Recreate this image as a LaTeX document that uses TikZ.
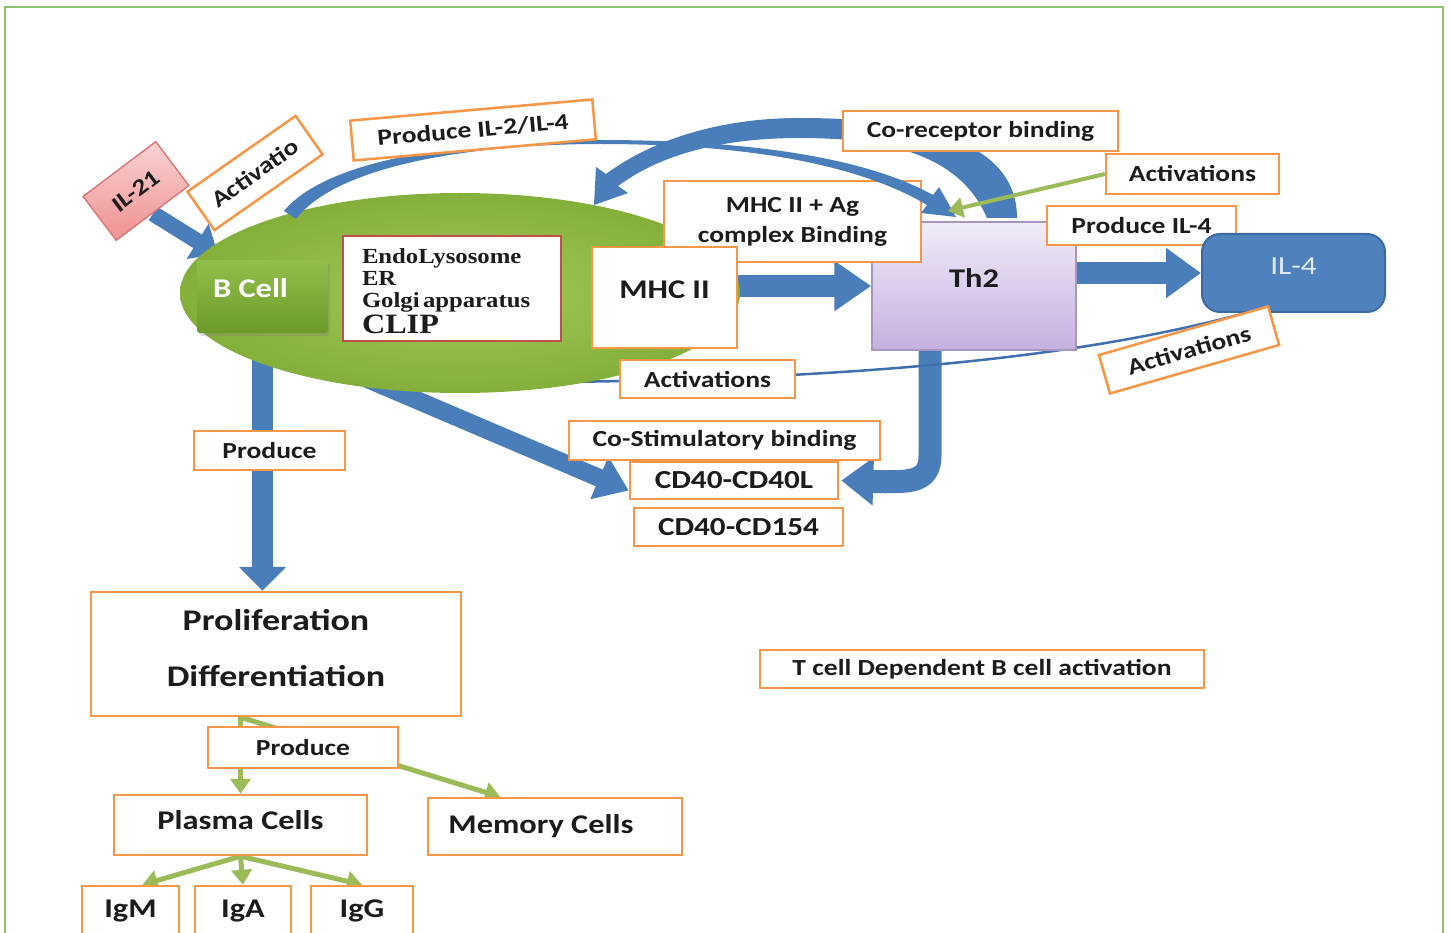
\documentclass[tikz,border=0pt]{standalone}
\usepackage{fontspec}
\setmainfont{Carlito}[FakeStretch=1.2]
\newfontfamily\serifbold{Liberation Serif}[FakeStretch=1.15]
\usetikzlibrary{shapes.geometric,arrows.meta,shadows}
\pgfdeclarelayer{bg}
\pgfsetlayers{bg,main}

\definecolor{orng}{HTML}{F79646}
\definecolor{blu}{HTML}{4A7EBB}
\definecolor{bludk}{HTML}{3F6FAE}
\definecolor{grnA}{HTML}{9BBB59}
\definecolor{frameG}{HTML}{8CC26E}
\definecolor{redB}{HTML}{C0504D}
\definecolor{ink}{HTML}{1C1C1C}
\definecolor{cellIn}{HTML}{A3C95A}
\definecolor{cellOut}{HTML}{84AF3A}
\definecolor{bTop}{HTML}{93BE4B}
\definecolor{bBot}{HTML}{6C9A2A}
\definecolor{thTop}{HTML}{F1ECF8}
\definecolor{thBot}{HTML}{C5B0DF}
\definecolor{thEdge}{HTML}{A597C0}
\definecolor{ilFill}{HTML}{4F81BD}
\definecolor{ilEdge}{HTML}{3C6BA3}
\definecolor{ilText}{HTML}{E2EAF5}
\definecolor{pinkTop}{HTML}{FAD3D3}
\definecolor{pinkBot}{HTML}{EE9090}
\definecolor{pinkEdge}{HTML}{DB7A7A}

\newcommand\txtN{\fontsize{23}{27}\selectfont\bfseries}
\newcommand\txtL{\fontsize{27}{31}\selectfont\bfseries}

\begin{document}
\begin{tikzpicture}[x=1pt,y=-1pt,
  box/.style={draw=orng, line width=2.5pt, fill=white, inner sep=0pt, text=ink, font=\txtN},
  bigbox/.style={box, font=\txtL},
  blk/.style={draw=blu, line width=#1},
  leaf/.style={draw=grnA, line width=5pt, -{Triangle[width=20pt,length=15pt]}},
]
\useasboundingbox (0,0) rectangle (1451,933);

% ---- B cell body and its contents ----
\node[ellipse, minimum width=560pt, minimum height=200pt,
      inner color=cellIn, outer color=cellOut] (cell) at (460,293) {};
\node[minimum width=131pt, minimum height=73pt, inner sep=0pt,
      top color=bTop, bottom color=bBot, rounded corners=3pt,
      drop shadow={opacity=0.3, shadow xshift=2pt, shadow yshift=-3pt},
      text=white, font=\txtL] (bcell) at (262.5,296.5) {\raisebox{17pt}{B Cell}\kern24pt};
\node[draw=redB, line width=2.5pt, fill=white, inner sep=0pt,
      minimum width=218pt, minimum height=105pt, text width=180pt, align=left,
      text=ink] (endo) at (452,288.5)
  {\raisebox{-3pt}[\height][\depth]{\parbox{180pt}{\serifbold\bfseries\fontsize{21.5}{22}\selectfont EndoLysosome\\ER\\Golgi apparatus\\[2pt]{\fontsize{28}{25}\selectfont CLIP}}}};

% curved arrow from Th2 back onto the B cell
\fill[blu] (1017,218) .. controls (1017,145) and (930,118) .. (800,118)
  .. controls (710,118) and (645,145) .. (606,174)
  -- (596,167) -- (594,205) -- (628,193) -- (618,186)
  .. controls (660,155) and (720,138) .. (800,138)
  .. controls (900,138) and (962,160) .. (987,218) -- cycle;

% ---- Th2 and the binding boxes in front of it ----
\node[draw=thEdge, line width=1.5pt, top color=thTop, bottom color=thBot,
      minimum width=204pt, minimum height=128pt, inner sep=0pt,
      text=ink, font=\txtL] (th2) at (974,286) {\raisebox{16pt}{Th2}};
\node[box, minimum width=257pt, minimum height=81pt, align=center,
      font=\fontsize{23}{30}\selectfont\bfseries] (mhcag) at (792.5,221.5) {MHC II + Ag\\complex Binding};
\node[bigbox, minimum width=145pt, minimum height=101pt] (mhc) at (664.5,297.5) {\raisebox{15pt}{MHC II}};

% curved arrow from the B cell over to Th2
\fill[blu] (284,211) .. controls (330,155) and (480,140) .. (600,140)
  .. controls (760,140) and (870,160) .. (933,195)
  -- (939,187) -- (956,217) -- (921,213) -- (927,205)
  .. controls (865,168) and (760,144) .. (600,144)
  .. controls (485,144) and (340,162) .. (296,219) -- cycle;

\node[box, minimum width=243pt, minimum height=40pt, rotate=5] (pil) at (473,130) {Produce IL-2/IL-4};
\node[box, minimum width=132pt, minimum height=47pt, rotate=35] (actv) at (255,173) {Activatio};
\node[draw=pinkEdge, line width=1.5pt, top color=pinkTop, bottom color=pinkBot,
      minimum width=91pt, minimum height=55pt, inner sep=0pt, rotate=37,
      text=ink, font=\txtN] (il21) at (136,191) {IL-21};

\node[box, minimum width=275pt, minimum height=40pt] (corec) at (980.5,131) {Co-receptor binding};
\node[box, minimum width=173pt, minimum height=40pt] (acttop) at (1192.5,174) {Activations};
\node[box, minimum width=189pt, minimum height=39pt] (pil4) at (1141.5,225.5) {Produce IL-4};
\node[fill=ilFill, draw=ilEdge, line width=2pt, rounded corners=18pt,
      minimum width=183pt, minimum height=78pt, inner sep=0pt,
      text=ilText, font=\fontsize{26}{30}\selectfont] (il4) at (1293.5,273) {\raisebox{14pt}{IL-4}};

\node[box, minimum width=175pt, minimum height=38pt] (actmid) at (707.5,379) {Activations};
\node[box, minimum width=176pt, minimum height=40pt, rotate=16] (actrot) at (1189,350) {Activations};

\node[box, minimum width=311pt, minimum height=39pt] (costim) at (724.5,440.5) {Co-Stimulatory binding};
\node[box, minimum width=208pt, minimum height=37pt, font=\fontsize{26}{30}\selectfont\bfseries] (cd40l) at (734,480.5) {CD40-CD40L};
\node[box, minimum width=209pt, minimum height=38pt, font=\fontsize{26}{30}\selectfont\bfseries] (cd154) at (738.5,527) {CD40-CD154};

\node[box, minimum width=444pt, minimum height=38pt] (tcell) at (982,669) {T cell Dependent B cell activation};

% ---- outcome branch ----
\node[box, minimum width=151pt, minimum height=39pt] (prod1) at (269.5,450.5) {Produce};
\node[box, minimum width=370pt, minimum height=124pt,
      font=\fontsize{30}{56}\selectfont\bfseries] (prolif) at (276,654)
  {\raisebox{6pt}[\height][\depth]{\parbox{340pt}{\centering Proliferation\\Differentiation}}};
\node[box, minimum width=190pt, minimum height=41pt] (prod2) at (303,747.5) {Produce};
\node[bigbox, minimum width=253pt, minimum height=60pt] (plasma) at (240.5,825) {\raisebox{9pt}{Plasma Cells}};
\node[bigbox, minimum width=254pt, minimum height=57pt] (memory) at (555,826.5) {\raisebox{5pt}{Memory Cells}\kern28pt};
\node[bigbox, minimum width=97pt, minimum height=50pt] (igm) at (130.5,911) {IgM};
\node[bigbox, minimum width=96pt, minimum height=50pt] (iga) at (243,911) {IgA};
\node[bigbox, minimum width=102pt, minimum height=50pt] (igg) at (362,911) {IgG};

% green activation pointer onto Th2
\coordinate (thTopIn) at (948,211);
\draw[leaf, line width=4pt] (acttop.west) -- (thTopIn);

% ---- connectors underneath the boxes ----
\begin{pgfonlayer}{bg}
  \draw[frameG, line width=2pt] (5,7) rectangle (1443,960);

  \coordinate (ilTip) at (218,254);
  \draw[blk=16pt, -{Triangle[width=40pt,length=24pt]}] (il21.south) -- (ilTip);

  \draw[blk=21pt, -{Triangle[width=46pt,length=24pt]}] (bcell.south) -- (bcell.south |- prolif.north);

  \coordinate (cellLow) at (365,378);
  \draw[blk=18pt, -{Triangle[width=44pt,length=32pt]}] (cellLow) -- ([yshift=-10pt]cd40l.west);

  \draw[blk=22pt, -{Triangle[width=48pt,length=37pt]}] (mhc.east |- th2.west) -- (th2.west);
  \draw[blk=22pt, -{Triangle[width=48pt,length=35pt]}] (th2.east |- il4.west) -- (il4.west);

  \draw[blk=23pt, -{Triangle[width=46pt,length=32pt]}] ([xshift=-44pt]th2.south) -- ++(0,105)
     .. controls +(0,26) and +(25,0) .. ++(-45,26) -- ([xshift=2pt]cd40l.east);

  \coordinate (lineStart) at (560,382);
  \draw[bludk, line width=2.5pt] (lineStart) .. controls (900,378) and (1100,352) .. ([xshift=-48pt]il4.south);

  \draw[leaf] (plasma.north |- prolif.south) -- (plasma.north);
  \draw[leaf] (plasma.north |- prolif.south) -- ([xshift=-55pt]memory.north);
  \draw[leaf] (plasma.south) -- ([xshift=12pt]igm.north);
  \draw[leaf] (plasma.south) -- (iga.north);
  \draw[leaf] (plasma.south) -- (igg.north);
\end{pgfonlayer}
\end{tikzpicture}
\end{document}
